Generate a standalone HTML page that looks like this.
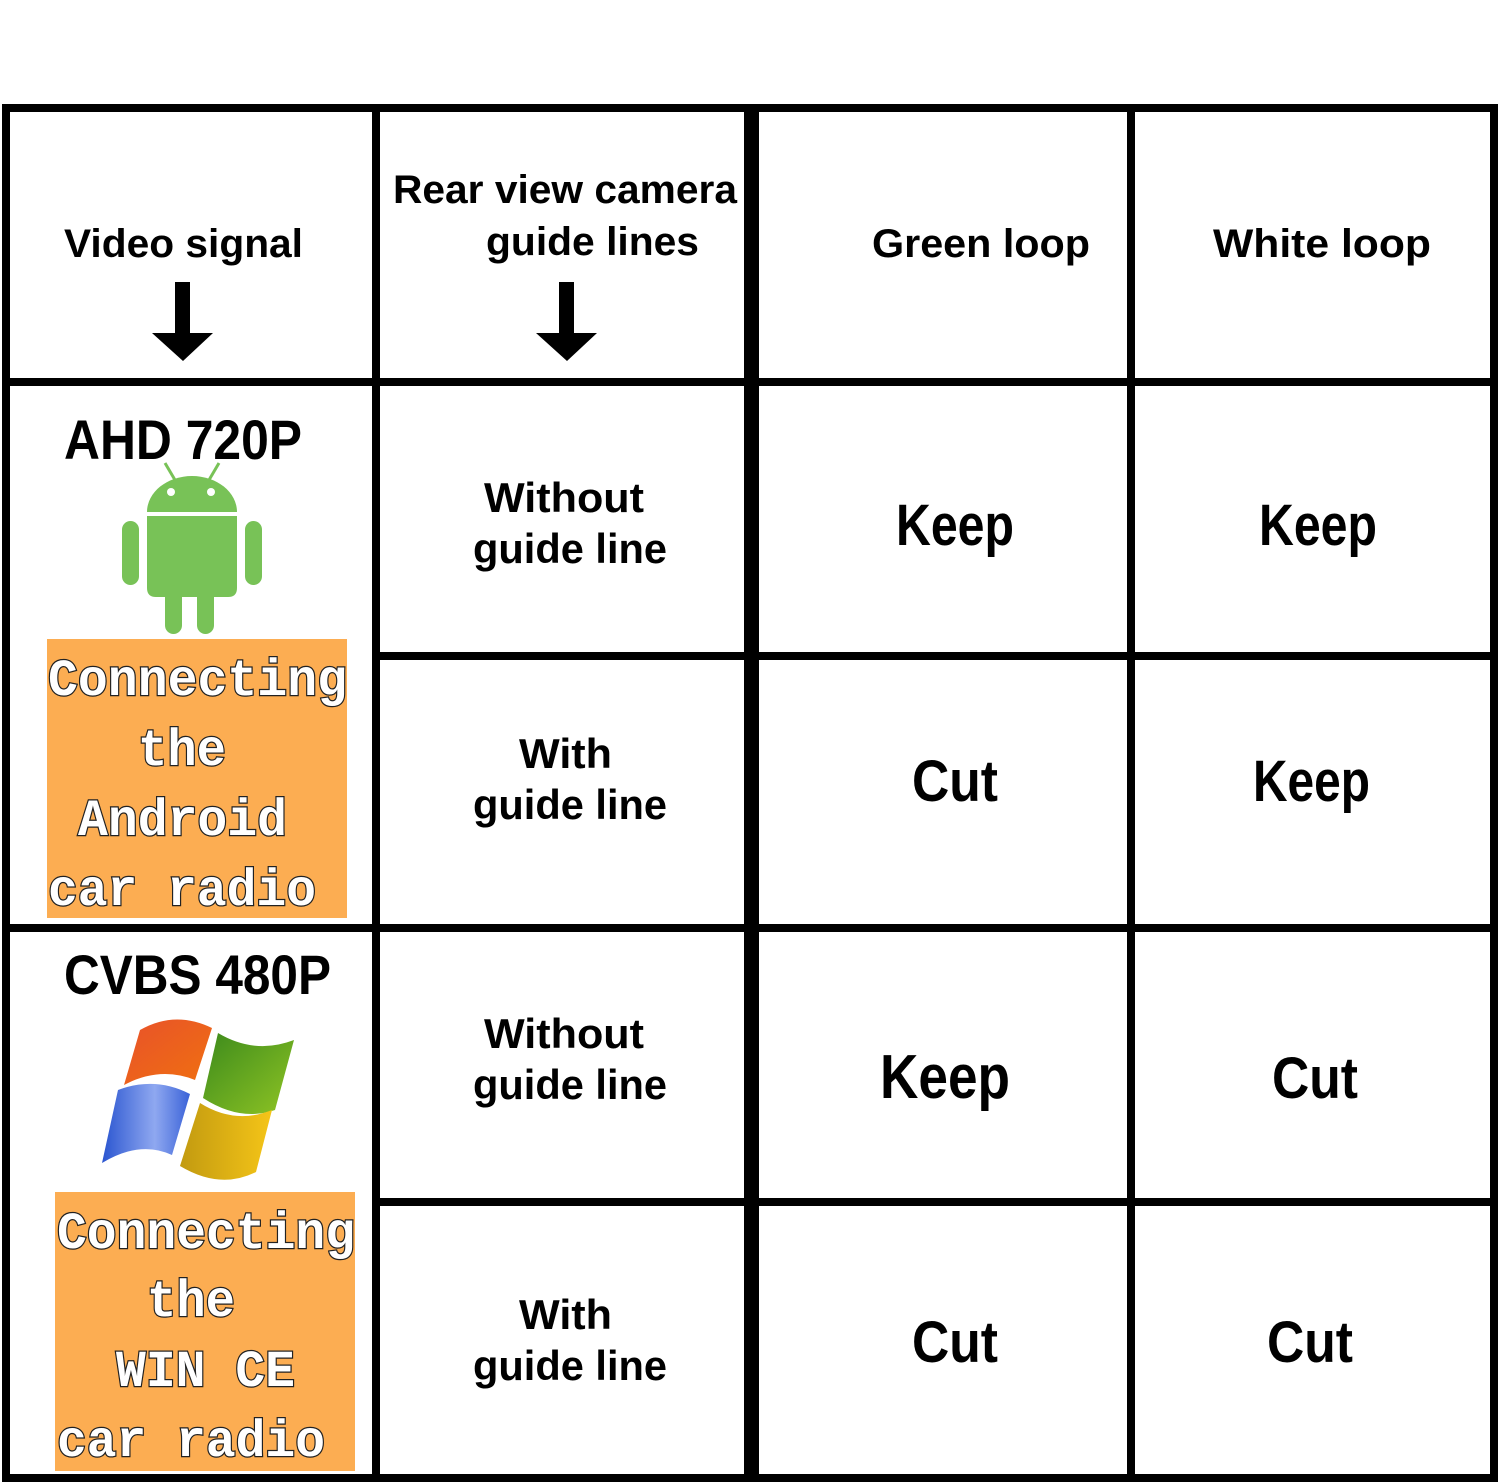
<!DOCTYPE html>
<html><head><meta charset="utf-8"><style>
html,body{margin:0;padding:0;background:#fff;width:1500px;height:1484px;overflow:hidden}
svg{display:block}
.h{font-family:"Liberation Sans",sans-serif;font-weight:bold;fill:#000}
.m{font-family:"Liberation Mono",monospace;font-weight:bold;fill:#fff;stroke:#222;stroke-width:2.5;paint-order:stroke}
</style></head><body>
<svg width="1500" height="1484" viewBox="0 0 1500 1484" xmlns="http://www.w3.org/2000/svg">
<!-- grid -->
<g fill="#000">
<rect x="2" y="104" width="1496" height="8"/>
<rect x="2" y="1474" width="1496" height="8"/>
<rect x="2" y="104" width="8" height="1378"/>
<rect x="1490" y="104" width="8" height="1378"/>
<rect x="372" y="104" width="8" height="1378"/>
<rect x="744" y="104" width="15" height="1378"/>
<rect x="1127" y="104" width="8" height="1378"/>
<rect x="2" y="378" width="1496" height="8"/>
<rect x="378" y="652" width="1120" height="8"/>
<rect x="2" y="924" width="1496" height="8"/>
<rect x="378" y="1198" width="1120" height="8"/>
<!-- arrows -->
<rect x="175" y="282" width="15" height="52"/>
<polygon points="152,333 213,333 183,361"/>
<rect x="559" y="282" width="15" height="52"/>
<polygon points="536,333 597,333 567,361"/>
</g>
<!-- headers -->
<text class="h" x="64" y="257" font-size="40" textLength="239" lengthAdjust="spacingAndGlyphs">Video signal</text>
<text class="h" x="393" y="203" font-size="40" textLength="344" lengthAdjust="spacingAndGlyphs">Rear view camera</text>
<text class="h" x="486" y="255" font-size="40" textLength="213" lengthAdjust="spacingAndGlyphs">guide lines</text>
<text class="h" x="872" y="257" font-size="40" textLength="218" lengthAdjust="spacingAndGlyphs">Green loop</text>
<text class="h" x="1213" y="257" font-size="40" textLength="218" lengthAdjust="spacingAndGlyphs">White loop</text>
<!-- col2 -->
<text class="h" x="484" y="512" font-size="42" textLength="160" lengthAdjust="spacingAndGlyphs">Without</text>
<text class="h" x="473" y="563" font-size="42" textLength="194" lengthAdjust="spacingAndGlyphs">guide line</text>
<text class="h" x="519" y="768" font-size="42" textLength="93" lengthAdjust="spacingAndGlyphs">With</text>
<text class="h" x="473" y="819" font-size="42" textLength="194" lengthAdjust="spacingAndGlyphs">guide line</text>
<text class="h" x="484" y="1048" font-size="42" textLength="160" lengthAdjust="spacingAndGlyphs">Without</text>
<text class="h" x="473" y="1099" font-size="42" textLength="194" lengthAdjust="spacingAndGlyphs">guide line</text>
<text class="h" x="519" y="1329" font-size="42" textLength="93" lengthAdjust="spacingAndGlyphs">With</text>
<text class="h" x="473" y="1380" font-size="42" textLength="194" lengthAdjust="spacingAndGlyphs">guide line</text>
<!-- keep/cut -->
<text class="h" x="896" y="545" font-size="58" textLength="118" lengthAdjust="spacingAndGlyphs">Keep</text>
<text class="h" x="1259" y="545" font-size="58" textLength="118" lengthAdjust="spacingAndGlyphs">Keep</text>
<text class="h" x="912" y="801" font-size="58" textLength="86" lengthAdjust="spacingAndGlyphs">Cut</text>
<text class="h" x="1253" y="801" font-size="58" textLength="117" lengthAdjust="spacingAndGlyphs">Keep</text>
<text class="h" x="880" y="1098" font-size="62" textLength="130" lengthAdjust="spacingAndGlyphs">Keep</text>
<text class="h" x="1272" y="1098" font-size="58" textLength="86" lengthAdjust="spacingAndGlyphs">Cut</text>
<text class="h" x="912" y="1362" font-size="58" textLength="86" lengthAdjust="spacingAndGlyphs">Cut</text>
<text class="h" x="1267" y="1362" font-size="58" textLength="86" lengthAdjust="spacingAndGlyphs">Cut</text>
<!-- signal labels -->
<text class="h" x="64" y="459" font-size="56" textLength="238" lengthAdjust="spacingAndGlyphs">AHD  720P</text>
<text class="h" x="64" y="994" font-size="56" textLength="267" lengthAdjust="spacingAndGlyphs">CVBS  480P</text>
<!-- android -->
<g fill="#78c257">
<path d="M147,512 A45,36 0 0 1 237,512 Z"/>
<path d="M147,516 H237 V588 Q237,597 228,597 H156 Q147,597 147,588 Z"/>
<rect x="122" y="521" width="17" height="64" rx="8.5"/>
<rect x="245" y="521" width="17" height="64" rx="8.5"/>
<rect x="165" y="585" width="17" height="49" rx="8.5"/>
<rect x="197" y="585" width="17" height="49" rx="8.5"/>
<line x1="165" y1="463" x2="175" y2="480" stroke="#78c257" stroke-width="3"/>
<line x1="219" y1="463" x2="209" y2="480" stroke="#78c257" stroke-width="3"/>
</g>
<circle cx="171" cy="492" r="4" fill="#fff"/>
<circle cx="211" cy="492" r="4" fill="#fff"/>
<!-- windows logo -->
<defs>
<linearGradient id="go" x1="0" y1="0" x2="1" y2="1"><stop offset="0" stop-color="#e8522a"/><stop offset="1" stop-color="#f07010"/></linearGradient>
<linearGradient id="gg" x1="0" y1="0" x2="1" y2="1"><stop offset="0" stop-color="#3c8a1c"/><stop offset="1" stop-color="#8fc424"/></linearGradient>
<linearGradient id="gb" x1="0" y1="0" x2="1" y2="0"><stop offset="0" stop-color="#2a55d0"/><stop offset="0.6" stop-color="#8fa8f0"/><stop offset="1" stop-color="#3a62d8"/></linearGradient>
<linearGradient id="gy" x1="0" y1="0" x2="1" y2="0"><stop offset="0" stop-color="#c29a10"/><stop offset="1" stop-color="#f5c518"/></linearGradient>
</defs>
<path d="M140,1030 Q175,1010 212,1028 L195,1080 Q160,1066 124,1085 Z" fill="url(#go)"/>
<path d="M218,1033 Q255,1055 294,1040 L275,1110 Q240,1122 203,1098 Z" fill="url(#gg)"/>
<path d="M118,1090 Q155,1076 190,1094 L172,1155 Q140,1140 102,1163 Z" fill="url(#gb)"/>
<path d="M200,1103 Q235,1125 272,1110 L256,1172 Q220,1190 180,1166 Z" fill="url(#gy)"/>
<!-- orange boxes -->
<rect x="47" y="639" width="300" height="279" fill="#fcad52"/>
<rect x="55" y="1192" width="300" height="279" fill="#fcad52"/>
<g font-size="52">
<text class="m" x="48" y="695" textLength="299" lengthAdjust="spacingAndGlyphs">Connecting</text>
<text class="m" x="138" y="765" textLength="88" lengthAdjust="spacingAndGlyphs">the</text>
<text class="m" x="78" y="835" textLength="209" lengthAdjust="spacingAndGlyphs">Android</text>
<text class="m" x="48" y="905" textLength="268" lengthAdjust="spacingAndGlyphs">car radio</text>
<text class="m" x="57" y="1248" textLength="298" lengthAdjust="spacingAndGlyphs">Connecting</text>
<text class="m" x="147" y="1316" textLength="88" lengthAdjust="spacingAndGlyphs">the</text>
<text class="m" x="116" y="1386" textLength="179" lengthAdjust="spacingAndGlyphs">WIN CE</text>
<text class="m" x="57" y="1456" textLength="268" lengthAdjust="spacingAndGlyphs">car radio</text>
</g>
</svg>
</body></html>
